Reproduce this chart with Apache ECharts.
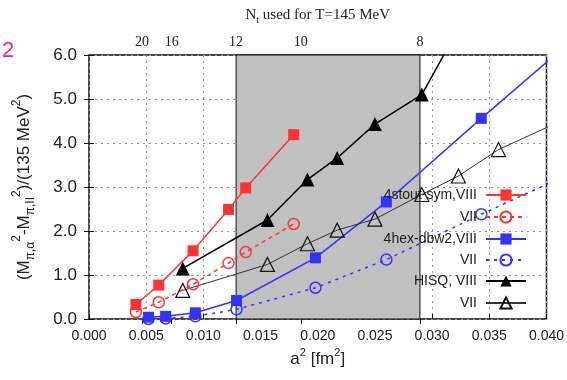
<!DOCTYPE html>
<html>
<head>
<meta charset="utf-8">
<script src="https://cdn.jsdelivr.net/npm/echarts@6/dist/echarts.min.js"></script>
<style>
  html, body { margin: 0; padding: 0; background: #fff; }
  #chart { width: 567px; height: 380px; }
</style>
</head>
<body>
<div id="chart"></div>
<script>
// lattice spacings a^2 [fm^2] for each action
var a2Stout = [0.0041, 0.0061, 0.0091, 0.0122, 0.0137, 0.0179];
var stoutVIII = [0.33, 0.77, 1.55, 2.49, 2.98, 4.19];
var stoutVII = [0.16, 0.38, 0.79, 1.27, 1.52, 2.16];

var a2Hex = [0.0052, 0.0067, 0.0093, 0.0129, 0.0198, 0.0260, 0.0343, 0.0452];
var hexVIII = [0.04, 0.06, 0.14, 0.42, 1.39, 2.66, 4.56, 7.00];
var hexVII = [0.00, 0.01, 0.06, 0.22, 0.71, 1.35, 2.38, 3.68];

var a2Hisq = [0.0082, 0.0156, 0.0191, 0.0217, 0.0250, 0.0291, 0.0323, 0.0358, 0.0452];
var hisqVIII = [1.15, 2.25, 3.17, 3.66, 4.43, 5.10, 6.60, null, null];
var hisqVII = [0.65, 1.24, 1.71, 2.02, 2.27, 2.83, 3.25, 3.85, 4.97];

// top axis: N_t at T=145 MeV, a = hbar*c/(T*Nt)
var ntTicks = [20, 16, 12, 10, 8];
var shadeNt = [12, 8];

var legendText = {
    stoutVIII: '4stout-sym,VIII',
    stoutVII: 'VII',
    hexVIII: '4hex-dbw2,VIII',
    hexVII: 'VII',
    hisqVIII: 'HISQ, VIII',
    hisqVII: 'VII'
};

function ntToA2(nt){
    var a = 197.327 / (145 * nt);
    return a * a;
}

function pairs(xs, ys){
    var out = [];
    for(var i = 0; i < xs.length; i++){
        if(ys[i] === null) continue;
        out.push([xs[i], ys[i]]);
    }
    return out;
}

var sans = '"Liberation Sans", Arial, sans-serif';
var serif = '"Liberation Serif", "Times New Roman", serif';
var red = '#ff3333';
var blue = '#3333ff';

var topVals = ntTicks.map(ntToA2);

function makeLegend(name, center){
    return {
        data: [name],
        right: 40,
        top: center - 7,
        padding: 0,
        orient: 'vertical',
        align: 'right',
        itemWidth: 40,
        itemHeight: 14,
        selectedMode: false,
        formatter: function(n){ return legendText[n]; },
        textStyle: { fontFamily: sans, fontSize: 14, color: '#222', padding: [0, 4, 0, 0] }
    };
}

var chart = echarts.init(document.getElementById('chart'));
var option = {
    animation: false,
    backgroundColor: '#fff',
    grid: {
        left: 89, right: 19, top: 53, bottom: 61,
        show: true, borderColor: '#111', borderWidth: 1.5
    },
    graphic: [{
        type: 'text', left: 2, top: 40,
        style: { text: '2', fontSize: 22, fontFamily: sans, fill: '#e8259a' }
    }],
    legend: [
        makeLegend('stoutVIII', 195),
        makeLegend('stoutVII', 217),
        makeLegend('hexVIII', 239),
        makeLegend('hexVII', 260),
        makeLegend('hisqVIII', 281),
        makeLegend('hisqVII', 303)
    ],
    xAxis: [{
        type: 'value', min: 0, max: 0.04, interval: 0.005,
        axisLine: { show: false },
        axisTick: { inside: true, length: 5, lineStyle: { color: '#111' } },
        axisLabel: {
            fontFamily: sans, fontSize: 14, color: '#222', margin: 10,
            formatter: function(v){ return v.toFixed(3); }
        },
        splitLine: { show: true, lineStyle: { color: '#999', type: [2, 4], width: 1 } },
        name: 'a{p|2} [fm{p|2}]',
        nameLocation: 'middle',
        nameGap: 28,
        nameTextStyle: {
            fontFamily: sans, fontSize: 17, color: '#222', lineHeight: 22,
            rich: { p: { fontSize: 11, lineHeight: 11, verticalAlign: 'top', fontFamily: sans, color: '#222' } }
        }
    }, {
        type: 'value', min: 0, max: 0.04, position: 'top',
        axisLine: { show: false },
        axisTick: { inside: true, length: 5, customValues: topVals, lineStyle: { color: '#111' } },
        axisLabel: {
            fontFamily: serif, fontSize: 14, color: '#222', margin: 6,
            customValues: topVals,
            formatter: function(v){ return String(Math.round(197.327 / 145 / Math.sqrt(v))); }
        },
        splitLine: { show: false },
        name: 'N{s|t} used for T=145 MeV',
        nameLocation: 'middle',
        nameGap: 30,
        nameTextStyle: {
            fontFamily: serif, fontSize: 15, color: '#222', lineHeight: 20,
            rich: { s: { fontSize: 10, lineHeight: 10, verticalAlign: 'bottom', fontFamily: serif, color: '#222' } }
        }
    }],
    yAxis: [{
        type: 'value', min: 0, max: 6, interval: 1,
        axisLine: { show: false },
        axisTick: { inside: true, length: 5, lineStyle: { color: '#111' } },
        axisLabel: {
            fontFamily: sans, fontSize: 17, color: '#222', margin: 12,
            formatter: function(v){ return v.toFixed(1); }
        },
        splitLine: { show: true, lineStyle: { color: '#999', type: [2, 4], width: 1 } },
        name: '(M{s|π,α}{p|2}-M{s|π,II}{p|2})/(135 MeV{p|2})',
        nameLocation: 'middle',
        nameRotate: 90,
        nameGap: 52,
        nameTextStyle: {
            fontFamily: sans, fontSize: 17, color: '#222', lineHeight: 26,
            rich: {
                s: { fontSize: 12, lineHeight: 12, verticalAlign: 'bottom', fontFamily: sans, color: '#222' },
                p: { fontSize: 12, lineHeight: 12, verticalAlign: 'top', fontFamily: sans, color: '#222' }
            }
        }
    }, {
        type: 'value', min: 0, max: 6, interval: 1, position: 'right',
        axisLine: { show: false },
        axisTick: { inside: true, length: 5, lineStyle: { color: '#111' } },
        axisLabel: { show: false },
        splitLine: { show: false }
    }],
    series: [{
        // shaded band between Nt=12 and Nt=8
        type: 'line', data: [], z: 1, silent: true,
        markArea: {
            silent: true,
            itemStyle: { color: '#c0c0c0', borderColor: '#111', borderWidth: 1 },
            data: [[{ xAxis: ntToA2(shadeNt[0]) }, { xAxis: ntToA2(shadeNt[1]) }]]
        }
    }, {
        name: 'stoutVIII', type: 'line', z: 3,
        data: pairs(a2Stout, stoutVIII),
        symbol: 'rect', symbolSize: 11, showAllSymbol: true,
        lineStyle: { color: red, width: 1.5 },
        itemStyle: { color: red }
    }, {
        name: 'stoutVII', type: 'line', z: 3,
        data: pairs(a2Stout, stoutVII),
        symbol: 'circle', symbolSize: 11, showAllSymbol: true,
        lineStyle: { color: red, width: 1.5, type: [4, 4] },
        itemStyle: { color: 'transparent', borderColor: red, borderWidth: 1.5 }
    }, {
        name: 'hexVIII', type: 'line', z: 3,
        data: pairs(a2Hex, hexVIII),
        symbol: 'rect', symbolSize: 11, showAllSymbol: true,
        lineStyle: { color: blue, width: 1.5 },
        itemStyle: { color: blue }
    }, {
        name: 'hexVII', type: 'line', z: 3,
        data: pairs(a2Hex, hexVII),
        symbol: 'circle', symbolSize: 11, showAllSymbol: true,
        lineStyle: { color: blue, width: 1.5, type: [3, 5] },
        itemStyle: { color: 'transparent', borderColor: blue, borderWidth: 1.5 }
    }, {
        name: 'hisqVIII', type: 'line', z: 3,
        data: pairs(a2Hisq, hisqVIII),
        symbol: 'triangle', symbolSize: 14, showAllSymbol: true,
        lineStyle: { color: '#000', width: 1.5 },
        itemStyle: { color: '#000' }
    }, {
        name: 'hisqVII', type: 'line', z: 3,
        data: pairs(a2Hisq, hisqVII),
        symbol: 'triangle', symbolSize: 14, showAllSymbol: true,
        lineStyle: { color: '#333', width: 1 },
        itemStyle: { color: 'transparent', borderColor: '#111', borderWidth: 1.2 }
    }]
};
chart.setOption(option);
</script>
</body>
</html>
